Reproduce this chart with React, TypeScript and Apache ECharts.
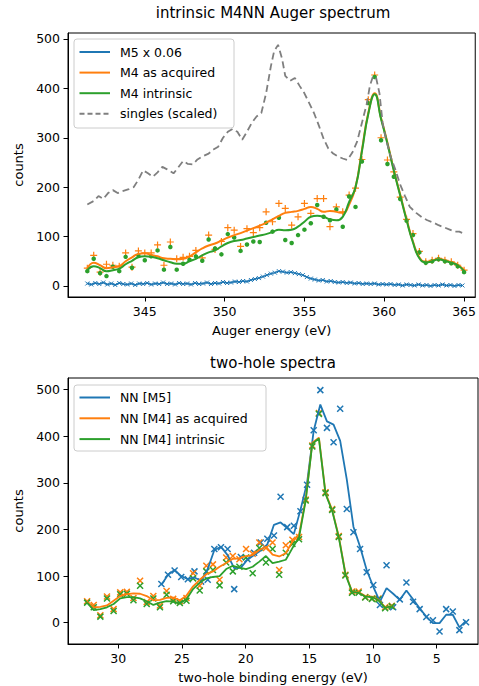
import React, { useEffect, useRef } from "react";
import * as echarts from "echarts";

// ---------- top panel: intrinsic M4NN Auger spectrum ----------
const augerX = [
  341.4, 341.8, 342.2, 342.6, 343.0, 343.4, 343.8, 344.2, 344.6, 345.0,
  345.4, 345.8, 346.2, 346.6, 347.0, 347.4, 347.8, 348.2, 348.6, 349.0,
  349.4, 349.8, 350.2, 350.6, 351.0, 351.4, 351.8, 352.2, 352.6, 353.0,
  353.4, 353.8, 354.2, 354.6, 355.0, 355.4, 355.8, 356.2, 356.6, 357.0,
  357.4, 357.8, 358.2, 358.6, 359.0, 359.4, 359.8, 360.2, 360.6, 361.0,
  361.4, 361.8, 362.2, 362.6, 363.0, 363.4, 363.8, 364.2, 364.6, 365.0,
];
const m4Acquired = [
  36, 62, 28, 44, 42, 40, 67, 38, 71, 67,
  67, 83, 42, 89, 55, 58, 60, 72, 57, 103,
  74, 90, 118, 113, 80, 116, 108, 118, 150, 130,
  167, 157, 123, 140, 167, 147, 177, 177, 120, 160,
  150, 184, 198, 256, 377, 427, 300, 255, 231, 180,
  135, 106, 70, 49, 52, 56, 52, 49, 42, 32,
];
const m4Intrinsic = [
  30, 55, 26, 20, 39, 30, 59, 37, 62, 52,
  60, 72, 33, 79, 33, 45, 53, 60, 51, 94,
  76, 64, 105, 98, 71, 84, 90, 89, 128, 110,
  138, 93, 87, 103, 114, 127, 164, 140, 133, 155,
  120, 181, 160, 252, 370, 423, 295, 247, 221, 176,
  132, 103, 68, 47, 50, 54, 50, 46, 40, 28,
];
const m4AcquiredSmooth = [
  35, 47, 42, 36, 38, 40, 50, 58, 65, 66,
  63, 60, 56, 55, 54, 55, 60, 68, 76, 82,
  86, 92, 98, 103, 107, 112, 117, 122, 128, 135,
  142, 148, 150, 152, 156, 160, 156, 150, 152, 150,
  148, 165, 200, 275, 350, 390, 340, 290, 235, 185,
  135, 90, 58, 49, 51, 55, 52, 48, 43, 32,
];
const m4IntrinsicSmooth = [
  32, 40, 36, 30, 32, 35, 44, 51, 58, 60,
  59, 56, 52, 48, 45, 45, 50, 55, 62, 68,
  72, 80, 87, 91, 93, 96, 99, 102, 105, 109,
  114, 113, 114, 120, 130, 140, 142, 140, 135, 133,
  140, 170, 200, 272, 348, 388, 338, 288, 233, 183,
  133, 88, 56, 48, 50, 54, 51, 47, 42, 30,
];
const m5X = [
  341.40, 341.65, 341.90, 342.15, 342.40, 342.65, 342.90, 343.15, 343.40, 343.65,
  343.90, 344.15, 344.40, 344.65, 344.90, 345.15, 345.40, 345.65, 345.90, 346.15,
  346.40, 346.65, 346.90, 347.15, 347.40, 347.65, 347.90, 348.15, 348.40, 348.65,
  348.90, 349.15, 349.40, 349.65, 349.90, 350.15, 350.40, 350.65, 350.90, 351.15,
  351.40, 351.65, 351.90, 352.15, 352.40, 352.65, 352.90, 353.15, 353.40, 353.65,
  353.90, 354.15, 354.40, 354.65, 354.90, 355.15, 355.40, 355.65, 355.90, 356.15,
  356.40, 356.65, 356.90, 357.15, 357.40, 357.65, 357.90, 358.15, 358.40, 358.65,
  358.90, 359.15, 359.40, 359.65, 359.90, 360.15, 360.40, 360.65, 360.90, 361.15,
  361.40, 361.65, 361.90, 362.15, 362.40, 362.65, 362.90, 363.15, 363.40, 363.65,
  363.90, 364.15, 364.40, 364.65, 364.90,
];
const m5Scaled = [
  5, 3, 6, 4, 7, 3, 5, 2, 6, 4,
  3, 5, 2, 5, 4, 6, 3, 5, 4, 7,
  4, 5, 3, 6, 4, 5, 3, 6, 4, 5,
  7, 4, 6, 5, 8, 6, 7, 9, 8, 10,
  9, 12, 14, 16, 19, 22, 25, 27, 30, 29,
  27, 28, 26, 24, 22, 18, 15, 13, 11, 12,
  9, 10, 8, 7, 8, 6, 7, 5, 6, 4,
  5, 4, 5, 3, 4, 3, 4, 2, 3, 1,
  3, 2, 1, 3, 1, 2, 0, 2, 1, 3,
  1, 2, 0, 2, 1,
];
const singlesX = [
  341.4, 341.8, 342.1, 342.4, 342.7, 343.0, 343.3, 343.6, 344.0, 344.3,
  344.6, 344.9, 345.2, 345.5, 345.8, 346.1, 346.4, 346.8, 347.1, 347.4,
  347.7, 348.0, 348.3, 348.6, 349.0, 349.3, 349.6, 349.9, 350.2, 350.5,
  350.8, 351.1, 351.4, 351.7, 352.0, 352.3, 352.6, 352.9, 353.1, 353.35,
  353.6, 353.8, 354.1, 354.4, 354.7, 355.0, 355.3, 355.6, 355.9, 356.2,
  356.5, 356.8, 357.1, 357.4, 357.7, 358.0, 358.3, 358.6, 358.9, 359.1,
  359.3, 359.5, 359.7, 359.9, 360.1, 360.4, 360.7, 361.0, 361.3, 361.6,
  362.0, 362.4, 362.7, 363.1, 363.4, 363.8, 364.1, 364.4, 364.7, 365.0,
];
const singlesScaled = [
  165, 172, 182, 176, 188, 194, 188, 192, 196, 200,
  215, 234, 228, 221, 230, 241, 236, 228, 240, 253,
  247, 246, 256, 262, 268, 276, 282, 300, 312, 318,
  312, 296, 312, 330, 343, 350, 390, 445, 475, 488,
  460, 425, 415, 421, 405, 390, 370, 350, 325, 298,
  278, 268, 262, 258, 255, 270, 292, 330, 368, 405,
  425, 420, 390, 330, 298, 262, 235, 205, 182, 160,
  148, 138, 133, 128, 123, 118, 114, 110, 110, 106,
];

// ---------- bottom panel: two-hole spectra ----------
const nnX = [
  32.45, 31.93, 31.41, 30.89, 30.37, 29.85, 29.33, 28.81, 28.29, 27.77,
  27.25, 26.73, 26.21, 25.69, 25.17, 24.65, 24.13, 23.61, 23.09, 22.57,
  22.05, 21.53, 21.01, 20.49, 19.97, 19.45, 18.93, 18.41, 17.89, 17.37,
  16.85, 16.33, 15.81, 15.29, 14.77, 14.25, 13.73, 13.21, 12.69, 12.17,
  11.65, 11.13, 10.61, 10.09, 9.57, 9.05, 8.53,
];
const nnM4Acquired = [
  46, 38, 16, 56, 29, 65, 66, 53, 90, 44,
  57, 37, 68, 51, 46, 53, 106, 79, 122, 125,
  92, 140, 143, 136, 158, 148, 172, 160, 172, 113,
  166, 178, 184, 264, 380, 450, 280, 244, 186, 103,
  67, 67, 55, 52, 52, 33, 36,
];
const nnM4Intrinsic = [
  43, 33, 13, 52, 25, 61, 62, 48, 79, 40,
  52, 33, 60, 46, 42, 47, 95, 69, 110, 113,
  80, 129, 110, 120, 140, 106, 160, 129, 158, 103,
  150, 169, 179, 262, 378, 448, 278, 242, 184, 101,
  64, 64, 54, 51, 50, 31, 35,
];
const nnM4AcquiredLine = [
  45, 33, 34, 37, 47, 57, 61, 63, 62, 57,
  48, 49, 53, 54, 48, 58, 78, 92, 104, 110,
  120, 128, 137, 138, 143, 145, 156, 163, 146, 142,
  149, 174, 189, 264, 386, 397, 278, 242, 185, 106,
  67, 65, 57, 56, 49, 33, 36,
];
const nnM4IntrinsicLine = [
  43, 27, 29, 33, 40, 52, 55, 55, 52, 46,
  38, 43, 46, 45, 41, 50, 72, 86, 95, 98,
  100, 115, 122, 118, 115, 120, 131, 143, 128, 131,
  135, 160, 183, 262, 384, 395, 276, 240, 183, 104,
  66, 64, 56, 55, 48, 32, 35,
];
const nnM5X = [
  26.62, 26.10, 25.58, 25.06, 24.54, 24.02, 23.50, 22.98, 22.46, 21.94,
  21.42, 20.90, 20.38, 19.86, 19.34, 18.82, 18.30, 17.78, 17.26, 16.74,
  16.22, 15.70, 15.18, 14.66, 14.14, 13.62, 13.10, 12.58, 12.06, 11.54,
  11.02, 10.50, 9.98, 9.46, 8.94, 8.42, 7.90, 7.38, 6.86, 6.34,
  5.82, 5.30, 4.78, 4.26, 3.74, 3.22, 2.70,
];
const nnM5 = [
  83, 103, 112, 98, 93, 110, 88, 92, 158, 162,
  158, 72, 141, 136, 150, 172, 180, 187, 270, 205,
  208, 239, 296, 413, 499, 418, 387, 459, 244, 194,
  158, 108, 81, 38, 123, 33, 50, 86, 45, 29,
  12, 5, -19, 29, 24, -16, 1,
];
const nnM5Line = [
  81, 103, 113, 100, 93, 97, 90, 115, 156, 163,
  145, 117, 118, 135, 145, 155, 168, 210, 215, 203,
  190, 242, 300, 412, 468, 432, 425, 390, 307, 206,
  163, 113, 77, 45, 74, 62, 49, 69, 50, 31,
  13, -1, -1, 17, 17, -10, 4,
];

// ---------- ticks ----------
const countTicks = [0, 100, 200, 300, 400, 500];
const augerTicks = [345, 350, 355, 360, 365];
const bindingTicks = [5, 10, 15, 20, 25, 30];

const BLUE = "#1f77b4";
const ORANGE = "#ff7f0e";
const GREEN = "#2ca02c";
const GREY = "#7f7f7f";
const FONT = "DejaVu Sans";
const X_SYMBOL = "path://M0,0L10,10M10,0L0,10";
const PLUS_SYMBOL = "path://M5,0L5,10M0,5L10,5";

const pairs = (xs: number[], ys: number[]) => xs.map((x, i) => [x, ys[i]]);

function axisCommon(ticks: number[]) {
  return {
    type: "value",
    splitLine: { show: false },
    axisLine: { show: true, onZero: false, lineStyle: { color: "#000", width: 1 } },
    axisTick: { show: true, inside: false, length: 4.5, lineStyle: { color: "#000", width: 1 }, customValues: ticks },
    axisLabel: { color: "#000", fontSize: 12.5, fontFamily: FONT, margin: 8, customValues: ticks },
    nameTextStyle: { color: "#000", fontSize: 13, fontFamily: FONT },
  };
}

function legend(x: number, y: number, w: number, h: number, rows: { label: string; color: string; dash?: boolean }[], firstRow: number, gap: number) {
  const els: any[] = [
    {
      type: "rect",
      shape: { x, y, width: w, height: h, r: 3 },
      style: { fill: "rgba(255,255,255,0.8)", stroke: "#cccccc", lineWidth: 1 },
      z: 100,
    },
  ];
  rows.forEach((r, i) => {
    const cy = firstRow + i * gap;
    els.push({
      type: "line",
      shape: { x1: x + 5.5, y1: cy, x2: x + 36, y2: cy },
      style: { stroke: r.color, lineWidth: 2, lineDash: r.dash ? [5, 3] : null },
      z: 101,
    });
    els.push({
      type: "text",
      x: x + 46,
      y: cy,
      style: { text: r.label, fill: "#000", fontSize: 12.5, fontFamily: FONT, align: "left", verticalAlign: "middle" },
      z: 101,
    });
  });
  return els;
}

export default function App() {
  const ref = useRef<HTMLDivElement>(null);
  useEffect(() => {
    if (!ref.current) return;
    const chart = echarts.init(ref.current, null, { renderer: "svg" });
    const topX = { ...axisCommon(augerTicks), gridIndex: 0, min: 340.19, max: 365.7, name: "Auger energy (eV)", nameLocation: "middle", nameGap: 27 };
    const topY = { ...axisCommon(countTicks), gridIndex: 0, min: -22.3, max: 512, name: "counts", nameLocation: "middle", nameGap: 42 };
    const botX = { ...axisCommon(bindingTicks), gridIndex: 1, min: 1.76, max: 33.95, inverse: true, name: "two-hole binding energy (eV)", nameLocation: "middle", nameGap: 27 };
    const botY = { ...axisCommon(countTicks), gridIndex: 1, min: -45.8, max: 525, name: "counts", nameLocation: "middle", nameGap: 42 };

    const line = (name: string, xi: number, data: any[], color: string, width: number, extra: any = {}) => ({
      type: "line", name, xAxisIndex: xi, yAxisIndex: xi, data, showSymbol: false, symbol: "none",
      lineStyle: { color, width }, itemStyle: { color }, ...extra,
    });
    const scatter = (name: string, xi: number, data: any[], color: string, symbol: string, size: number, bw: number, filled = false) => ({
      type: "scatter", name, xAxisIndex: xi, yAxisIndex: xi, data, symbol, symbolSize: size,
      itemStyle: filled ? { color, opacity: 1 } : { color: "none", borderColor: color, borderWidth: bw, opacity: 1 },
    });

    chart.setOption({
      animation: false,
      backgroundColor: "#fff",
      grid: [
        { left: 68, top: 33, width: 410, height: 264, show: true, borderColor: "#000", borderWidth: 1, containLabel: false },
        { left: 68, top: 378, width: 410, height: 266, show: true, borderColor: "#000", borderWidth: 1, containLabel: false },
      ],
      xAxis: [topX, botX],
      yAxis: [topY, botY],
      series: [
        line("M5 x 0.06", 0, pairs(m5X, m5Scaled), BLUE, 1.5),
        scatter("M5 markers", 0, pairs(m5X, m5Scaled), BLUE, X_SYMBOL, 4, 1),
        scatter("M4 acquired markers", 0, pairs(augerX, m4Acquired), ORANGE, PLUS_SYMBOL, 7, 1.2),
        line("M4 as acquired", 0, pairs(augerX, m4AcquiredSmooth), ORANGE, 2, { smooth: true }),
        scatter("M4 intrinsic markers", 0, pairs(augerX, m4Intrinsic), GREEN, "circle", 4.5, 0, true),
        line("M4 intrinsic", 0, pairs(augerX, m4IntrinsicSmooth), GREEN, 2, { smooth: true }),
        line("singles (scaled)", 0, pairs(singlesX, singlesScaled), GREY, 1.8, { lineStyle: { color: GREY, width: 1.8, type: [7, 4] } }),

        line("NN [M5]", 1, pairs(nnM5X, nnM5Line), BLUE, 1.8),
        scatter("NN [M5] markers", 1, pairs(nnM5X, nnM5), BLUE, X_SYMBOL, 6, 1.5),
        line("NN [M4] as acquired", 1, pairs(nnX, nnM4AcquiredLine), ORANGE, 1.8),
        scatter("NN [M4] acquired markers", 1, pairs(nnX, nnM4Acquired), ORANGE, X_SYMBOL, 6, 1.5),
        line("NN [M4] intrinsic", 1, pairs(nnX, nnM4IntrinsicLine), GREEN, 1.8),
        scatter("NN [M4] intrinsic markers", 1, pairs(nnX, nnM4Intrinsic), GREEN, X_SYMBOL, 6, 1.5),
      ],
      graphic: [
        {
          type: "text", x: 273, y: 13,
          style: { text: "intrinsic M4NN Auger spectrum", fill: "#000", fontSize: 15, fontFamily: FONT, align: "center", verticalAlign: "middle" },
        },
        {
          type: "text", x: 273, y: 363,
          style: { text: "two-hole spectra", fill: "#000", fontSize: 15, fontFamily: FONT, align: "center", verticalAlign: "middle" },
        },
        ...legend(74, 39, 160, 89, [
          { label: "M5 x 0.06", color: BLUE },
          { label: "M4 as acquired", color: ORANGE },
          { label: "M4 intrinsic", color: GREEN },
          { label: "singles (scaled)", color: GREY, dash: true },
        ], 52, 20.6),
        ...legend(74, 385, 192, 66, [
          { label: "NN [M5]", color: BLUE },
          { label: "NN [M4] as acquired", color: ORANGE },
          { label: "NN [M4] intrinsic", color: GREEN },
        ], 397.5, 20.8),
      ],
    });
    return () => chart.dispose();
  }, []);
  return <div ref={ref} style={{ position: "fixed", left: 0, top: 0, width: 479, height: 686, background: "#fff" }} />;
}
